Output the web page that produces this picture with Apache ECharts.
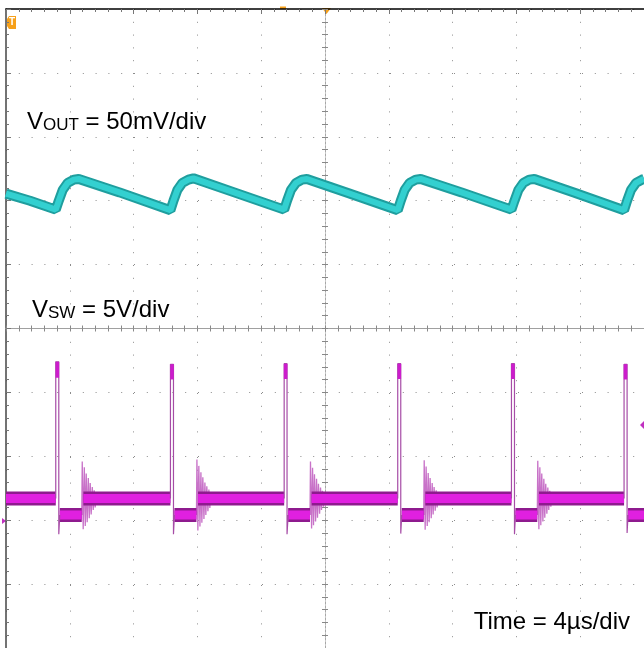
<!DOCTYPE html>
<html><head><meta charset="utf-8">
<script src="https://cdn.jsdelivr.net/npm/echarts@6/dist/echarts.min.js"></script>
<style>html,body{margin:0;padding:0;background:#fff}#c{width:644px;height:648px}</style>
</head><body><div id="c"></div><script>
// Time in µs relative to the trigger (screen centre); amplitude in screen divisions.
const timeMin = -20, timeMax = 20, timeStep = 4;   // 4 µs/div
const divMin = -5, divMax = 5, divStep = 1;

const labelVout = ['V', 'OUT', ' = 50mV/div'];
const labelVsw = ['V', 'SW', ' = 5V/div'];
const labelTime = 'Time = 4µs/div';

// VOUT ripple trace
const voutTime = [-20, -18.5, -16.88, -16.69, -16.44, -16.13, -15.75, -15.44, -12.88,
  -9.69, -9.5, -9.25, -8.94, -8.56, -8.25, -5.69,
  -2.56, -2.38, -2.13, -1.81, -1.44, -1.13, 1.44,
  4.56, 4.75, 5.0, 5.31, 5.69, 6.0, 8.56,
  11.69, 11.88, 12.13, 12.44, 12.81, 13.13, 15.69,
  18.75, 18.94, 19.19, 19.5, 19.88, 20];
const voutDiv = [2.11, 2.0, 1.86, 2.0, 2.17, 2.28, 2.33, 2.34, 2.13,
  1.85, 2.0, 2.17, 2.28, 2.33, 2.35, 2.13,
  1.86, 2.0, 2.17, 2.28, 2.33, 2.34, 2.12,
  1.85, 2.0, 2.17, 2.28, 2.33, 2.34, 2.13,
  1.86, 2.0, 2.17, 2.28, 2.33, 2.34, 2.12,
  1.85, 2.0, 2.17, 2.28, 2.33, 2.34];

// VSW flat levels (null = break)
const swBandTime = [-20, -16.88, null, -16.63, -15.25, null, -15.15, -9.69, null, -9.44, -8.06, null,
  -7.96, -2.56, null, -2.31, -0.94, null, -0.84, 4.56, null, 4.81, 6.19, null,
  6.29, 11.69, null, 11.94, 13.31, null, 13.41, 18.75, null, 19.0, 20];
const swBandDiv = [-2.66, -2.66, null, -2.92, -2.92, null, -2.66, -2.66, null, -2.92, -2.92, null,
  -2.66, -2.66, null, -2.92, -2.92, null, -2.66, -2.66, null, -2.92, -2.92, null,
  -2.66, -2.66, null, -2.92, -2.92, null, -2.66, -2.66, null, -2.92, -2.92];

// VSW switching edges (spike up, fall with undershoot)
const swEdgeTime = [-16.88, -16.88, -16.69, -16.69, -16.63, null,
  -9.69, -9.69, -9.5, -9.5, -9.44, null,
  -2.56, -2.56, -2.38, -2.38, -2.31, null,
  4.56, 4.56, 4.75, 4.75, 4.81, null,
  11.69, 11.69, 11.88, 11.88, 11.94, null,
  18.75, 18.75, 18.94, 18.94, 19.0];
const swEdgeDiv = [-2.66, -0.52, -0.52, -3.22, -2.92, null,
  -2.66, -0.56, -0.56, -3.22, -2.92, null,
  -2.66, -0.55, -0.55, -3.22, -2.92, null,
  -2.66, -0.55, -0.55, -3.21, -2.92, null,
  -2.66, -0.55, -0.55, -3.22, -2.92, null,
  -2.66, -0.56, -0.56, -3.2, -2.92];

// VSW spike tops
const swTopTime = [-16.78, -16.78, null, -9.59, -9.59, null, -2.47, -2.47, null, 4.66, 4.66, null, 11.78, 11.78, null, 18.84, 18.84];
const swTopDiv = [-0.52, -0.77, null, -0.56, -0.8, null, -0.55, -0.79, null, -0.55, -0.79, null, -0.55, -0.79, null, -0.56, -0.8];

// VSW ringing after the inductor current reaches zero
const swRingTime = [
  -15.25, -15.22, -15.16, -15.09, -15.03, -14.97, -14.91, -14.84, -14.78, -14.72, -14.66, -14.59, -14.53, -14.47, -14.41, -14.34, -14.28, -14.19, -14.06, null,
  -8.06, -8.03, -7.97, -7.91, -7.84, -7.78, -7.72, -7.66, -7.59, -7.53, -7.47, -7.41, -7.34, -7.28, -7.22, -7.16, -7.09, -7.00, -6.88, null,
  -0.94, -0.91, -0.84, -0.78, -0.72, -0.66, -0.59, -0.53, -0.47, -0.41, -0.34, -0.28, -0.22, -0.16, -0.09, -0.03, 0.03, 0.13, 0.25, null,
  6.19, 6.22, 6.28, 6.34, 6.41, 6.47, 6.53, 6.59, 6.66, 6.72, 6.78, 6.84, 6.91, 6.97, 7.03, 7.09, 7.16, 7.25, 7.38, null,
  13.31, 13.34, 13.41, 13.47, 13.53, 13.59, 13.66, 13.72, 13.78, 13.84, 13.91, 13.97, 14.03, 14.09, 14.16, 14.22, 14.28, 14.38, 14.50];
const swRingDiv = [
  -2.92, -2.08, -3.14, -2.17, -3.09, -2.27, -3.03, -2.34, -2.97, -2.42, -2.91, -2.48, -2.84, -2.53, -2.80, -2.58, -2.75, -2.61, -2.67, null,
  -2.92, -2.05, -3.16, -2.15, -3.10, -2.25, -3.04, -2.33, -2.98, -2.41, -2.92, -2.47, -2.86, -2.52, -2.81, -2.57, -2.76, -2.61, -2.66, null,
  -2.92, -2.08, -3.13, -2.18, -3.08, -2.28, -3.02, -2.35, -2.96, -2.43, -2.90, -2.49, -2.84, -2.54, -2.79, -2.58, -2.74, -2.62, -2.67, null,
  -2.92, -2.06, -3.15, -2.16, -3.09, -2.26, -3.03, -2.34, -2.97, -2.42, -2.91, -2.48, -2.85, -2.53, -2.80, -2.58, -2.75, -2.61, -2.66, null,
  -2.92, -2.07, -3.14, -2.17, -3.08, -2.27, -3.02, -2.35, -2.96, -2.43, -2.90, -2.49, -2.84, -2.54, -2.79, -2.59, -2.74, -2.62, -2.67];

function pairs(ts, vs) {
  return ts.map((t, i) => (t === null || vs[i] === null) ? ['-', '-'] : [t, vs[i]]);
}
function lineSeries(ts, vs, color, width, extra) {
  return Object.assign({
    type: 'line', data: pairs(ts, vs), xAxisIndex: 0, yAxisIndex: 0,
    showSymbol: false, symbol: 'none', silent: true, connectNulls: false,
    lineStyle: { color: color, width: width, cap: 'butt', join: 'bevel' }
  }, extra || {});
}

const FONT = '"Liberation Sans", Arial, sans-serif';
const hidden = { show: false };
function centreX(pos) {
  return { type: 'value', min: timeMin, max: timeMax, interval: timeStep, position: pos,
    axisLine: { onZero: true, onZeroAxisIndex: 0, lineStyle: { color: '#a0a0a0', width: 1 } },
    axisTick: { show: true, length: 3, lineStyle: { color: '#888' } },
    minorTick: { show: true, splitNumber: 5, length: 3, lineStyle: { color: '#888' } },
    axisLabel: hidden, splitLine: hidden };
}
function centreY(pos) {
  return { type: 'value', min: divMin, max: divMax, interval: divStep, position: pos,
    axisLine: { onZero: true, onZeroAxisIndex: 0, lineStyle: { color: '#a8a8a8', width: 1, type: [2, 2] } },
    axisTick: { show: true, length: 3, lineStyle: { color: '#888' } },
    minorTick: { show: true, splitNumber: 5, length: 3, lineStyle: { color: '#888' } },
    axisLabel: hidden, splitLine: hidden };
}

const chart = echarts.init(document.getElementById('c'), null, { renderer: 'canvas' });
chart.setOption({
  animation: false,
  backgroundColor: '#ffffff',
  grid: { left: 6, top: 9, width: 640, height: 640, show: false },
  xAxis: [
    Object.assign(centreX('bottom'), {
      splitLine: { show: true, lineStyle: { color: '#8c8c8c', width: 1, type: [1, 11.8] } } }),
    { type: 'value', min: timeMin, max: timeMax, interval: timeStep, position: 'top',
      axisLine: { onZero: false, lineStyle: { color: '#000', width: 1.5 } },
      axisTick: { show: true, inside: true, length: 5, lineStyle: { color: '#777' } },
      minorTick: { show: true, splitNumber: 5, length: 3, lineStyle: { color: '#777' } },
      axisLabel: hidden, splitLine: hidden },
    centreX('top')
  ],
  yAxis: [
    Object.assign(centreY('left'), {
      splitLine: { show: true, lineStyle: { color: '#8c8c8c', width: 1, type: [1, 11.8] } } }),
    { type: 'value', min: divMin, max: divMax, interval: divStep, position: 'left',
      axisLine: { onZero: false, lineStyle: { color: '#444', width: 1.5 } },
      axisTick: { show: true, inside: true, length: 5, lineStyle: { color: '#777' } },
      minorTick: { show: true, splitNumber: 5, length: 3, lineStyle: { color: '#777' } },
      axisLabel: hidden, splitLine: hidden },
    centreY('right')
  ],
  series: [
    lineSeries(voutTime, voutDiv, '#1f9e9e', 10),
    lineSeries(voutTime, voutDiv, '#33d0d0', 6),
    lineSeries(swRingTime, swRingDiv, '#c872c8', 1.3),
    lineSeries(swBandTime, swBandDiv, '#8e1a8e', 14),
    lineSeries(swBandTime, swBandDiv, '#e020e0', 9),
    lineSeries(swEdgeTime, swEdgeDiv, '#a64ca6', 1.2),
    lineSeries(swTopTime, swTopDiv, '#cc1ccc', 3.5)
  ],
  graphic: [
    { type: 'text', x: 27, y: 134, silent: true,
      style: { text: '{a|' + labelVout[0] + '}{b|' + labelVout[1] + '}{a|' + labelVout[2] + '}', verticalAlign: 'bottom',
        rich: { a: { fontSize: 24, fontFamily: FONT, fill: '#000', verticalAlign: 'bottom' },
                b: { fontSize: 17, fontFamily: FONT, fill: '#000', verticalAlign: 'bottom' } } } },
    { type: 'text', x: 32, y: 322, silent: true,
      style: { text: '{a|' + labelVsw[0] + '}{b|' + labelVsw[1] + '}{a|' + labelVsw[2] + '}', verticalAlign: 'bottom',
        rich: { a: { fontSize: 24, fontFamily: FONT, fill: '#000', verticalAlign: 'bottom' },
                b: { fontSize: 17, fontFamily: FONT, fill: '#000', verticalAlign: 'bottom' } } } },
    { type: 'text', x: 630, y: 634, silent: true,
      style: { text: labelTime, align: 'right', verticalAlign: 'bottom', font: '24px ' + FONT, fill: '#000' } },
    // trigger marker (top-left)
    { type: 'polygon', silent: true, shape: { points: [[7, 19], [9, 16], [16, 16], [16, 29], [9, 29], [7, 26]] }, style: { fill: '#f6a01a' } },
    { type: 'text', x: 12, y: 22.5, silent: true, style: { text: 'T', align: 'center', verticalAlign: 'middle', font: 'bold 10px ' + FONT, fill: '#fff' } },
    // trigger position (top centre)
    { type: 'polygon', silent: true, shape: { points: [[322, 8], [331, 8], [326.5, 14]] }, style: { fill: '#f6a01a' } },
    { type: 'rect', silent: true, shape: { x: 280, y: 6.5, width: 6, height: 2.5 }, style: { fill: '#f6a01a' } },
    // channel markers
    { type: 'polygon', silent: true, shape: { points: [[640, 425], [645, 420], [645, 430]] }, style: { fill: '#c030c0' } },
    { type: 'polygon', silent: true, shape: { points: [[2, 518], [6, 521], [2, 524]] }, style: { fill: '#c030c0' } }
  ]
});
</script></body></html>
